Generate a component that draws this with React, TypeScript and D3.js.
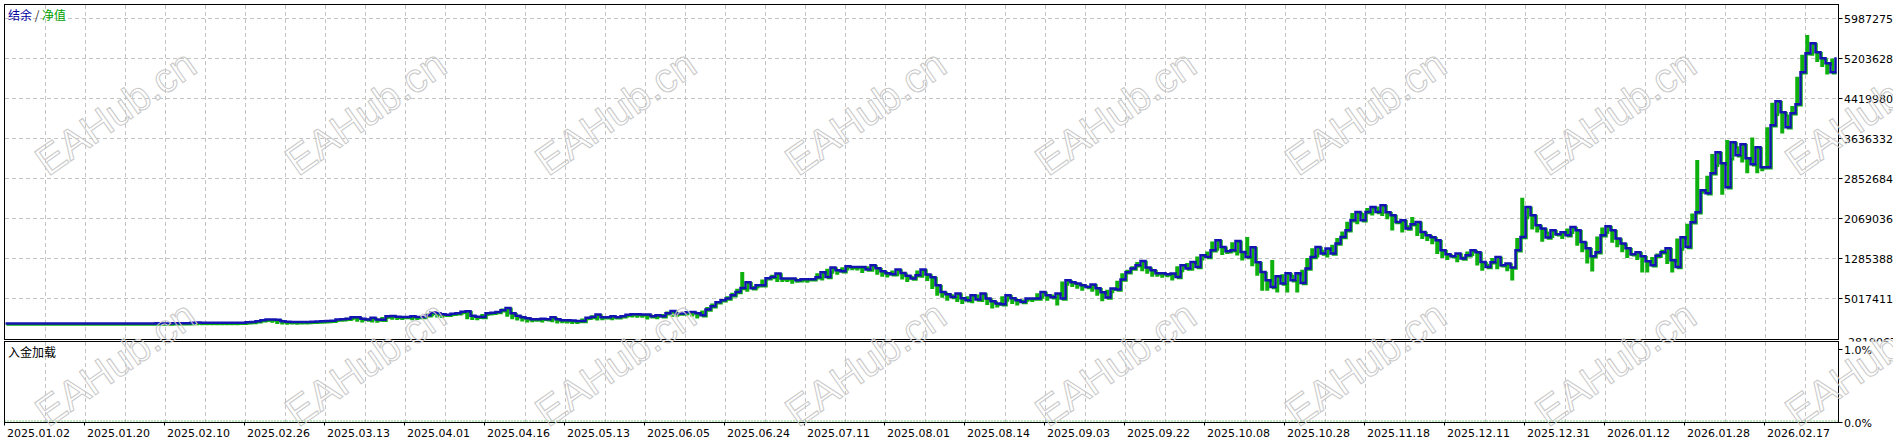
import * as d3 from "d3";

// balance in thousands, one sample per step of the x index
const balanceK = [
  10, 10, 10, 10, 10, 10, 10, 10, 10, 10, 10, 10, 10, 10, 10, 10, 10, 10, 10, 10,
  10, 10, 10, 10, 10, 10, 10, 10, 10,
  14, 18, 12, 14, 18, 18, 18, 18, 27, 31,
  25, 25, 25, 25, 25, 25, 25, 25, 25, 37,
  41, 57, 76, 90, 90, 86, 57, 47, 43, 43,
  43, 43, 47, 53, 57, 63, 67, 90, 96, 106,
  135, 135, 106, 90, 125, 90, 86, 155, 161, 145,
  141, 141, 155, 141, 141, 174, 227, 214, 194, 184,
  204, 214, 243, 253, 165, 145, 141, 214, 224, 239,
  272, 317, 214, 165, 135, 116, 96, 96, 106, 96,
  135, 96, 76, 76, 71, 63, 63, 125, 141, 188,
  135, 135, 155, 135, 155, 184, 194, 194, 188, 188,
  155, 174, 155, 214, 259, 208, 208, 233, 239, 214,
  174, 286, 351, 429, 468, 502, 566, 631, 709, 821,
  704, 762, 762, 899, 925, 991, 894, 894, 894, 860,
  880, 880, 880, 919, 1017, 925, 1109, 1056, 1036, 1134,
  1121, 1121, 1121, 1070, 1154, 1095, 1036, 997, 978, 1070,
  1003, 948, 894, 958, 1070, 972, 919, 762, 631, 586,
  533, 600, 508, 468, 566, 482, 600, 502, 449, 404,
  390, 566, 508, 468, 435, 502, 502, 502, 631, 566,
  527, 600, 502, 860, 821, 795, 762, 729, 776, 704,
  625, 521, 697, 678, 874, 1017, 1089, 1154, 1238, 1109,
  1056, 997, 997, 978, 991, 925, 1154, 1089, 1218, 1121,
  1350, 1317, 1448, 1644, 1513, 1428, 1448, 1630, 1414, 1317,
  1507, 1213, 1023, 860, 729, 939, 795, 997, 860, 997,
  807, 1089, 1317, 1513, 1383, 1481, 1383, 1579, 1708, 1840,
  2036, 2198, 2036, 2198, 2296, 2198, 2329, 2192, 2134, 2002,
  2036, 1873, 1957, 2002, 1806, 1742, 1702, 1644, 1448, 1370,
  1330, 1383, 1285, 1350, 1448, 1409, 1218, 1121, 1213, 1317,
  1154, 1187, 1109, 1448, 1708, 2296, 2134, 1938, 1873, 1697,
  1840, 1761, 1801, 1742, 1904, 1840, 1610, 1487, 1330, 1409,
  1742, 1918, 1840, 1677, 1579, 1487, 1370, 1409, 1330, 1232,
  1154, 1340, 1409, 1487, 1252, 1121, 1702, 1513, 1996, 2192,
  2623, 2564, 2956, 3368, 3152, 2682, 3564, 3309, 3524, 3250,
  3133, 3466, 3074, 3074, 3897, 4367, 4151, 3857, 4132, 4308,
  4935, 5307, 5503, 5327, 5209, 5111, 4935, 5229,
];

// equity extreme reached around each balance step (thousands)
const equityK = [
  10, 10, 10, 10, 10, 10, 10, 10, 10, 10, 10, 10, 10, 10, 10, 10, 10, 10, 10, 10,
  10, 10, 10, 10, 10, 10, 10, 10, 10,
  14, 10, 12, 14, 14, 16, 16, 20, 24, 20,
  20, 22, 20, 20, 22, 20, 22, 20, 28, 30,
  45, 62, 78, 84, 72, 46, 38, 34, 36, 34,
  36, 38, 44, 46, 52, 56, 76, 84, 92, 118,
  122, 90, 78, 108, 76, 72, 135, 145, 128, 124,
  126, 138, 122, 124, 155, 205, 196, 174, 165, 185,
  196, 222, 232, 140, 125, 122, 192, 205, 220, 250,
  300, 190, 140, 115, 96, 78, 80, 88, 78, 115,
  80, 58, 60, 54, 46, 48, 105, 122, 168, 115,
  118, 135, 118, 135, 165, 176, 175, 168, 170, 135,
  155, 138, 195, 240, 190, 188, 212, 220, 195, 155,
  262, 330, 400, 445, 480, 540, 610, 690, 1017, 680,
  740, 740, 870, 900, 960, 870, 868, 870, 835, 855,
  858, 855, 895, 990, 900, 1080, 1030, 1010, 1110, 1095,
  1100, 1095, 1045, 1130, 1070, 1010, 970, 955, 1045, 980,
  920, 870, 935, 1045, 950, 890, 730, 600, 560, 500,
  575, 478, 440, 540, 455, 575, 475, 420, 350, 370,
  540, 480, 440, 410, 475, 480, 476, 600, 540, 500,
  575, 409, 830, 795, 770, 735, 700, 750, 680, 600,
  490, 670, 650, 845, 990, 1060, 1130, 1210, 1080, 1030,
  970, 970, 950, 960, 900, 1130, 1060, 1190, 1090, 1320,
  1290, 1420, 1615, 1480, 1400, 1420, 1600, 1390, 1290, 1702,
  1180, 990, 700, 700, 1252, 664, 970, 664, 960, 664,
  1060, 1290, 1480, 1350, 1450, 1350, 1550, 1680, 1810, 2000,
  2170, 2000, 2170, 2270, 2170, 2300, 2160, 2100, 1878, 2000,
  1840, 1930, 2094, 1770, 1710, 1670, 1610, 1420, 1340, 1300,
  1350, 1255, 1320, 1420, 1380, 1190, 1090, 1180, 1290, 1120,
  1160, 1080, 900, 1680, 2470, 2100, 1900, 1840, 1660, 1810,
  1730, 1770, 1710, 1870, 1810, 1580, 1450, 1232, 1075, 1710,
  1890, 1810, 1640, 1550, 1450, 1340, 1380, 1300, 1056, 1056,
  1310, 1380, 1450, 1220, 1056, 1670, 1480, 1960, 2160, 3211,
  2600, 2900, 3330, 3120, 2580, 3600, 3250, 3480, 3210, 3000,
  3650, 3000, 3040, 3850, 4330, 4120, 3780, 4100, 4270, 4840,
  5270, 5660, 5300, 5180, 5080, 4935, 5200,
];

const dateLabels = [
  "2025.01.02", "2025.01.20", "2025.02.10", "2025.02.26", "2025.03.13",
  "2025.04.01", "2025.04.16", "2025.05.13", "2025.06.05", "2025.06.24",
  "2025.07.11", "2025.08.01", "2025.08.14", "2025.09.03", "2025.09.22",
  "2025.10.08", "2025.10.28", "2025.11.18", "2025.12.11", "2025.12.31",
  "2026.01.12", "2026.01.28", "2026.02.17",
];

const yTickValues = [
  5987.275, 5203.628, 4419.98, 3636.332, 2852.684, 2069.036, 1285.388, 501.7411,
];
const yTickLabels = [
  "5987275", "5203628", "4419980", "3636332", "2852684", "2069036", "1285388", "5017411",
];
const yBottomValue = -281.9067;
const yBottomLabel = "-2819067";

const loadTicks = [1, 0];
const loadLabels = ["1.0%", "0.0%"];

const watermarkCols = [0, 1, 2, 3, 4, 5, 6, 7];
const watermarkRows = [0, 1];

const W = 1893;
const H = 442;
const left = 4.5;
const right = 1838.5;
const mainTop = 4.5;
const mainBottom = 339.5;
const subTop = 341.5;
const subBottom = 422.5;

const font = "'DejaVu Sans', sans-serif";
const cjk = "'Noto Sans CJK SC', sans-serif";
const gridColor = "#c4c4c4";
const blue = "#1414b0";
const green = "#0db00d";

const App = () => {
  const n = balanceK.length;
  const x = d3.scaleLinear().domain([0, n - 1]).range([5.5, 1835.5]);
  const y = d3.scaleLinear().domain([yBottomValue, 5987.275]).range([338.5, 18.5]);
  const pct = d3.scaleLinear().domain([0, 1]).range([422.5, 349.5]);

  const balanceLine = d3
    .line<number>()
    .x((_, i) => x(i))
    .y((d) => y(d))
    .curve(d3.curveStepAfter);

  // equity: spike to its extreme at each step, then settle on the balance
  const spike = 1.5;
  const equityPts: [number, number][] = [];
  balanceK.forEach((b, i) => {
    const prev = i === 0 ? b : balanceK[i - 1];
    equityPts.push([x(i), y(prev)]);
    equityPts.push([x(i), y(equityK[i])]);
    equityPts.push([x(i) + spike, y(equityK[i])]);
    equityPts.push([x(i) + spike, y(b)]);
  });
  equityPts.push([x(n - 1) + spike, y(balanceK[n - 1])]);
  const equityLine = d3.line();

  const gridIdx = d3.range(8, n, 8);
  const labelIdx = d3.range(0, n, 16);

  return (
    <svg
      width={W}
      height={H}
      style={{ position: "absolute", left: 0, top: 0, background: "#fff" }}
    >
      <defs>
        <clipPath id="mainClip">
          <rect x={left} y={mainTop} width={right - left} height={mainBottom - mainTop} />
        </clipPath>
        <clipPath id="bottomLabelClip">
          <rect x={right + 1} y={336} width={60} height={5.5} />
        </clipPath>
      </defs>

      {/* grid */}
      <g stroke={gridColor} strokeDasharray="4 3" shapeRendering="crispEdges">
        {yTickValues.map((v) => (
          <line key={`h${v}`} x1={left} x2={right} y1={y(v)} y2={y(v)} />
        ))}
        {gridIdx.map((i) => (
          <line key={`v${i}`} x1={x(i)} x2={x(i)} y1={mainTop} y2={mainBottom} />
        ))}
        {gridIdx.map((i) => (
          <line key={`s${i}`} x1={x(i)} x2={x(i)} y1={subTop} y2={subBottom} />
        ))}
      </g>

      {/* balance & equity */}
      <g clipPath="url(#mainClip)" fill="none" strokeLinejoin="miter">
        <path
          d={equityLine(equityPts) ?? ""}
          stroke={green}
          strokeWidth={2.5}
          transform="translate(1,1)"
        />
        <path d={balanceLine(balanceK) ?? ""} stroke={blue} strokeWidth={2.5} />
      </g>

      {/* deposit load line */}
      <line
        x1={left}
        x2={right}
        y1={pct(0) - 1.5}
        y2={pct(0) - 1.5}
        stroke={green}
        strokeWidth={1}
        strokeDasharray="1 2"
      />

      {/* frames */}
      <g fill="none" stroke="#000" shapeRendering="crispEdges">
        <rect x={left} y={mainTop} width={right - left} height={mainBottom - mainTop} />
        <rect x={left} y={subTop} width={right - left} height={subBottom - subTop} />
      </g>

      {/* right axis */}
      <g fontFamily={font} fontSize={11} fill="#000">
        {yTickValues.map((v, i) => (
          <g key={`yt${v}`}>
            <line x1={right} x2={right + 4} y1={y(v)} y2={y(v)} stroke="#000" />
            <text x={right + 5.5} y={y(v) + 4.5}>
              {yTickLabels[i]}
            </text>
          </g>
        ))}
        <text x={right + 5.5} y={y(yBottomValue) + 7.5} clipPath="url(#bottomLabelClip)">
          {yBottomLabel}
        </text>
        {loadTicks.map((v, i) => (
          <g key={`lt${v}`}>
            <line x1={right} x2={right + 4} y1={pct(v)} y2={pct(v)} stroke="#000" />
            <text x={right + 5.5} y={pct(v) + 4.5}>
              {loadLabels[i]}
            </text>
          </g>
        ))}
      </g>

      {/* bottom axis */}
      <g fontFamily={font} fontSize={11} fill="#000">
        {labelIdx.map((i, k) => (
          <g key={`d${i}`}>
            <line x1={x(i) - 1} x2={x(i) - 1} y1={subBottom} y2={subBottom + 3} stroke="#000" />
            <text x={x(i) + 1.5} y={436.5}>
              {dateLabels[k]}
            </text>
          </g>
        ))}
      </g>

      {/* titles */}
      <text x={8} y={20} fontFamily={cjk} fontSize={12}>
        <tspan fill="#0000a0">结余</tspan>
        <tspan fill="#333"> / </tspan>
        <tspan fill="#00a000">净值</tspan>
      </text>
      <text x={8} y={357} fontFamily={cjk} fontSize={12} fill="#000">
        入金加载
      </text>

      {/* watermark */}
      <g
        fontFamily="'Liberation Sans', Arial, sans-serif"
        fontSize={41}
        fill="none"
        stroke="#c8c8c8"
        strokeWidth={1}
      >
        {watermarkRows.map((r) =>
          watermarkCols.map((c) => (
            <text
              key={`wm${r}-${c}`}
              transform={`translate(${48 + c * 250},${177 + r * 251}) rotate(-35)`}
            >
              EAHub.cn
            </text>
          ))
        )}
      </g>
    </svg>
  );
};

export default App;
